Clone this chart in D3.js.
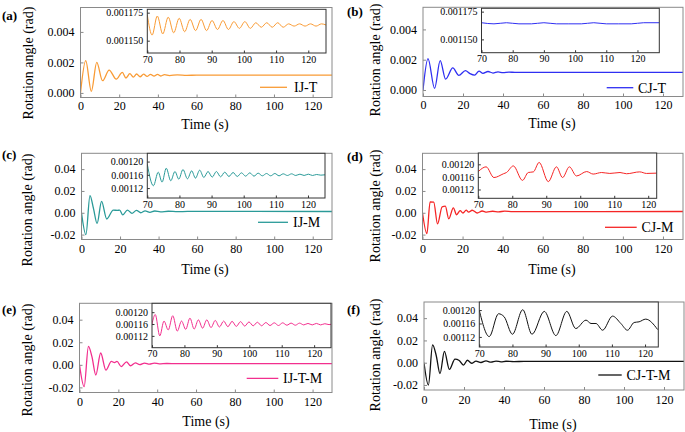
<!DOCTYPE html>
<html><head><meta charset="utf-8">
<script src="https://cdn.jsdelivr.net/npm/d3@7"></script>
<style>
body{margin:0;background:#fff}
svg{display:block}
</style>
</head><body>
<svg id="chart" width="685" height="432"></svg>
<script>
// ---------- tick labels / categories ----------
const seriesNames = ["IJ-T","CJ-T","IJ-M","CJ-M","IJ-T-M","CJ-T-M"];
const panelLetters = ["(a)","(b)","(c)","(d)","(e)","(f)"];
const xTicksMain = [0,20,40,60,80,100,120];
const xTicksInset = [70,80,90,100,110,120];
const yTicksT = [0,0.002,0.004];
const yTicksM = [-0.02,0,0.02,0.04];
const yTicksInsetT = [0.00115,0.001175];
const yTicksInsetM = [0.00112,0.00116,0.0012];
const xLabel = "Time (s)";
const yLabel = "Rotation angle (rad)";

// ---------- main series (time s, rotation rad) ----------
const tA = [0,2.7,5.6,8.4,11.4,14.8,18.5,21.6,23.5,25.5,27.3,29,30.8,32.6,34.4,36.2,38,39.8,41.6,43.4,46,50,55,60,130];
const vA = [0,0.00212,0.0001,0.002,0.0008,0.0015,0.0009,0.00135,0.00098,0.00126,0.00104,0.00124,0.00106,0.00123,0.00108,0.00122,0.0011,0.00121,0.00111,0.0012,0.00114,0.00118,0.00115,0.001165,0.001164];
const tB = [0,2.5,5.8,8.6,11.3,14.9,17.9,21.2,23.5,25.8,28,30,32.5,35,37.5,40,43,46,130];
const vB = [0,0.00207,0.00011,0.00194,0.00072,0.00146,0.00096,0.00128,0.00108,0.00098,0.00124,0.0011,0.00122,0.00112,0.0012,0.00114,0.00118,0.001163,0.001164];
const tC = [0,2.3,4.4,6.2,8.1,10.4,13.1,16.5,18.6,19.8,21.4,23.8,26.2,28.5,30.8,33,35.5,38,41,45,50,55,130];
const vC = [0,-0.02,0.0158,0.004,-0.0098,0.0105,-0.0057,0.0024,0.0022,0.0024,-0.002,0.0025,-0.0005,0.0022,0,0.0018,0.0004,0.0016,0.0008,0.0014,0.001,0.0012,0.00116];
const tD = [0,2.2,3.8,5.6,7.5,9.8,11.4,13.1,15.4,17,18.8,20.2,21.8,23,24.8,27.3,29.8,32,35,38,41,45,130];
const vD = [0,-0.0192,0.01,0.0098,-0.0102,0.0055,0.006,-0.0055,0.0045,-0.0018,0.002,-0.0002,0.0024,0.0006,0.0023,-0.0002,0.0016,0.0006,0.0014,0.0008,0.0015,0.0011,0.00117];
const tE = [0,2.4,4.6,6.4,8.4,10.9,13.6,16.4,18,19.3,21.5,24.2,26.3,28.8,31,33.5,36,38.5,41,45,50,130];
const vE = [0,-0.0193,0.0163,0.0072,-0.009,0.0105,-0.0046,0.003,0.002,0.003,-0.0015,0.0026,-0.0008,0.0018,0.0002,0.0016,0.0006,0.0015,0.0009,0.0012,0.0011,0.00116];
const tF = [0,2.2,4.3,6.1,8,10.2,12.7,15.5,17.6,19.7,21.7,23.8,26,28.5,31,33.5,36,38.5,41,45,50,130];
const vF = [0,-0.02,0.016,0.0065,-0.0098,0.0102,-0.006,0.0032,0.002,-0.0022,0.0022,-0.0005,0.0014,0.0002,0.0016,0.0005,0.0014,0.0008,0.0013,0.001,0.0012,0.00117];

// ---------- inset series (70 s onward) ----------
const itA = [70,71.5,73.1,74.8,76.5,78.2,79.9,81.6,83.3,85,86.7,88.4,90.1,91.8,93.5,95.2,96.9,98.6,100.3,102,103.7,105.4,107.1,108.8,110.5,112.2,113.9,115.6,117.3,119,120.7,122.4,124.1,125.5];
const ivA = [0.001173,0.001155,0.001172,0.001156,0.001171,0.001157,0.00117,0.001158,0.001169,0.001159,0.001169,0.001159,0.001168,0.00116,0.001168,0.00116,0.001167,0.001161,0.001167,0.001161,0.001166,0.001162,0.001166,0.001162,0.001166,0.001162,0.001165,0.001163,0.001165,0.001163,0.001165,0.001163,0.001165,0.001164];
const itB = [70,74,78,82,86,90,94,98,102,106,110,114,118,122,127];
const ivB = [0.001165,0.001164,0.001165,0.001164,0.001164,0.001165,0.001164,0.001164,0.001164,0.001165,0.001164,0.001164,0.001164,0.001165,0.001165];
const itC = [70,71.9,73.4,74.6,75.9,77.3,78.6,79.8,81.1,82.5,83.8,85,86.3,87.6,88.9,90.2,91.5,92.8,94.1,95.4,96.7,98,99.3,100.6,101.9,103.2,104.5,105.8,107.1,108.4,109.7,111,112.3,113.6,114.9,116.2,117.5,118.8,120.1,121.4,122.7,124,125.3];
const ivC = [0.001192,0.001127,0.001168,0.001138,0.00118,0.001142,0.00117,0.001147,0.001176,0.001148,0.001172,0.00115,0.001174,0.001152,0.00117,0.001153,0.00117,0.001154,0.001168,0.001155,0.001167,0.001155,0.001166,0.001156,0.001166,0.001156,0.001165,0.001157,0.001164,0.001157,0.001164,0.001157,0.001163,0.001158,0.001163,0.001158,0.001162,0.001158,0.001162,0.001158,0.001161,0.001159,0.00116];
const itD = [70,72.3,74.6,77.4,78.3,80.3,83,84.7,86.2,87.9,90.6,93,94.8,96.8,98.9,101.9,103.8,106.3,108.7,111.7,113.6,117.5,119.5,122.5];
const ivD = [0.001177,0.001192,0.001158,0.00117,0.001174,0.001195,0.001149,0.001174,0.001176,0.001206,0.001145,0.001192,0.001158,0.001192,0.001163,0.001177,0.001169,0.001174,0.001171,0.001174,0.00117,0.001176,0.001171,0.001172];
const itE = [70,71,72.4,73.7,75,76.4,77.8,79.1,80.4,81.7,83,84.3,85.6,86.9,88.2,89.5,90.8,92.1,93.4,94.7,96,97.3,98.6,99.9,101.2,102.5,103.8,105.1,106.4,107.7,109,110.3,111.6,112.9,114.2,115.5,116.8,118.1,119.4,120.7,122,123.3,124.6,125.2];
const ivE = [0.00116,0.001192,0.00112,0.00117,0.00114,0.001188,0.001136,0.00117,0.001142,0.00118,0.001143,0.001174,0.001146,0.001174,0.001148,0.001172,0.00115,0.00117,0.001151,0.001169,0.001152,0.001168,0.001153,0.001167,0.001154,0.001166,0.001154,0.001165,0.001155,0.001164,0.001155,0.001164,0.001156,0.001163,0.001156,0.001163,0.001157,0.001162,0.001157,0.001162,0.001157,0.001161,0.001158,0.001159];
const itF = [70,73,75.8,77.5,80,83.1,85.9,89.6,93.1,96.4,99.1,102.2,103.7,105.2,107.2,110.2,112.7,114.7,116.7,118.2,120.2,123.8];
const ivF = [0.001199,0.001121,0.001189,0.00118,0.001128,0.001201,0.001128,0.001196,0.001124,0.001196,0.001145,0.00117,0.00116,0.00116,0.00114,0.001182,0.00116,0.00114,0.001163,0.001165,0.001173,0.001142];

const colors = ["#F99B35","#2F2FF2","#2A9A98","#F52525","#F22F8E","#111111"];

// ---------- layout ----------
const panels = [
 {t:tA,v:vA,it:itA,iv:ivA, x0:80.5,x1:332,y0:7.5,y1:97.5,yDom:[-0.0003,0.0056],yT:yTicksT,fmt:".3f",
  ins:{x0:147.3,x1:326,y0:9.3,y1:53,xDom:[70,125.5],yDom:[0.001139,0.001178],yT:yTicksInsetT,fmt:".6f"},
  lg:{x0:260,x1:287,y:87.3,tx:294}, lab:{x:2,y:20}, yl:{x:33,y:63}, xl:{x:205,y:129}, tickOff:12},
 {t:tB,v:vB,it:itB,iv:ivB, x0:423,x1:683,y0:7.3,y1:96.5,yDom:[-0.00043,0.00546],yT:yTicksT,fmt:".3f",
  ins:{x0:481.5,x1:659.3,y0:8.3,y1:52.7,xDom:[70,127],yDom:[0.001138,0.001178],yT:yTicksInsetT,fmt:".6f"},
  lg:{x0:606.7,x1:633.3,y:87.7,tx:638}, lab:{x:347,y:16}, yl:{x:380,y:60}, xl:{x:552,y:128}, tickOff:12},
 {t:tC,v:vC,it:itC,iv:ivC, x0:81.5,x1:332,y0:153.3,y1:239.5,yDom:[-0.0245,0.0545],yT:yTicksM,fmt:".2f",
  ins:{x0:147.3,x1:325,y0:153.3,y1:198,xDom:[70,125.3],yDom:[0.00109,0.001225],yT:yTicksInsetM,fmt:".5f"},
  lg:{x0:258,x1:288,y:222.3,tx:293}, lab:{x:2,y:159}, yl:{x:32,y:210}, xl:{x:205,y:274}, tickOff:13.5},
 {t:tD,v:vD,it:itD,iv:ivD, x0:422.5,x1:683,y0:153.3,y1:239.5,yDom:[-0.0245,0.0545],yT:yTicksM,fmt:".2f",
  ins:{x0:478.3,x1:656.7,y0:153,y1:198.3,xDom:[70,122.5],yDom:[0.001092,0.001236],yT:yTicksInsetM,fmt:".5f"},
  lg:{x0:605,x1:636.7,y:227.3,tx:641.5}, lab:{x:347,y:161}, yl:{x:380,y:206}, xl:{x:552,y:274}, tickOff:13.5},
 {t:tE,v:vE,it:itE,iv:ivE, x0:79.5,x1:332,y0:303.3,y1:392.5,yDom:[-0.0245,0.0545],yT:yTicksM,fmt:".2f",
  ins:{x0:152,x1:331,y0:303.3,y1:347.7,xDom:[70,125.2],yDom:[0.00108,0.00123],yT:yTicksInsetM,fmt:".5f"},
  lg:{x0:246.7,x1:278.3,y:378.3,tx:283}, lab:{x:2,y:314}, yl:{x:32,y:360}, xl:{x:206,y:426}, tickOff:13.5},
 {t:tF,v:vF,it:itF,iv:ivF, x0:424,x1:684,y0:302,y1:390,yDom:[-0.0245,0.0545],yT:yTicksM,fmt:".2f",
  ins:{x0:479.3,x1:658.3,y0:302,y1:347,xDom:[70,124],yDom:[0.00109,0.001224],yT:yTicksInsetM,fmt:".5f"},
  lg:{x0:598.3,x1:621.7,y:375,tx:626.5}, lab:{x:347,y:314}, yl:{x:380,y:355}, xl:{x:553,y:429}, tickOff:13.5}
];

const FONT = "'Liberation Serif','Times New Roman',serif";
const svg = d3.select("#chart");
const fix = f => d => d3.format(f)(d).replace("\u2212","-");
const styleText = (sel, size, weight) => sel
  .style("font-family", FONT).style("font-size", size + "px")
  .style("font-weight", weight || "normal").style("fill", "#000");

panels.forEach((p,i) => {
  const col = colors[i];
  const g = svg.append("g");
  const x = d3.scaleLinear().domain([0,130]).range([p.x0,p.x1]);
  const y = d3.scaleLinear().domain(p.yDom).range([p.y1,p.y0]);
  const cid = "clip"+i;
  svg.append("clipPath").attr("id",cid).append("rect")
    .attr("x",p.x0).attr("y",p.y0).attr("width",p.x1-p.x0).attr("height",p.y1-p.y0);

  g.append("path").datum(d3.zip(p.t,p.v))
    .attr("clip-path",`url(#${cid})`)
    .attr("fill","none").attr("stroke",col).attr("stroke-width",1.3)
    .attr("d", d3.line().x(d=>x(d[0])).y(d=>y(d[1])).curve(d3.curveMonotoneX));

  g.append("rect").attr("x",p.x0).attr("y",p.y0).attr("width",p.x1-p.x0).attr("height",p.y1-p.y0)
    .attr("fill","none").attr("stroke","#8a8a8a").attr("stroke-width",1);

  const xa = g.append("g").attr("transform",`translate(0,${p.y1})`)
    .call(d3.axisBottom(x).tickValues(xTicksMain).tickSizeInner(-3).tickSizeOuter(0).tickFormat(d3.format("d")));
  xa.select(".domain").remove();
  xa.selectAll("line").attr("stroke","#8a8a8a");
  styleText(xa.selectAll("text").attr("y",p.tickOff).attr("dy",0), 12);

  const ya = g.append("g").attr("transform",`translate(${p.x0},0)`)
    .call(d3.axisLeft(y).tickValues(p.yT).tickSizeInner(-3).tickSizeOuter(0).tickFormat(fix(p.fmt)));
  ya.select(".domain").remove();
  ya.selectAll("line").attr("stroke","#8a8a8a");
  styleText(ya.selectAll("text").attr("x",-6), 12);

  styleText(g.append("text").attr("x",p.xl.x).attr("y",p.xl.y).attr("text-anchor","middle").text(xLabel), 14);
  styleText(g.append("text").attr("transform",`translate(${p.yl.x},${p.yl.y}) rotate(-90)`)
    .attr("text-anchor","middle").text(yLabel), 14);

  styleText(g.append("text").attr("x",p.lab.x).attr("y",p.lab.y).text(panelLetters[i]), 13, "bold");

  g.append("line").attr("x1",p.lg.x0).attr("x2",p.lg.x1).attr("y1",p.lg.y).attr("y2",p.lg.y)
    .attr("stroke",col).attr("stroke-width",1.3);
  styleText(g.append("text").attr("x",p.lg.tx).attr("y",p.lg.y+5).text(seriesNames[i]), 14);

  const q = p.ins;
  const ix = d3.scaleLinear().domain(q.xDom).range([q.x0,q.x1]);
  const iy = d3.scaleLinear().domain(q.yDom).range([q.y1,q.y0]);
  const icid = "iclip"+i;
  svg.append("clipPath").attr("id",icid).append("rect")
    .attr("x",q.x0).attr("y",q.y0).attr("width",q.x1-q.x0).attr("height",q.y1-q.y0);
  g.append("rect").attr("x",q.x0).attr("y",q.y0).attr("width",q.x1-q.x0).attr("height",q.y1-q.y0)
    .attr("fill","#fff");
  g.append("path").datum(d3.zip(p.it,p.iv))
    .attr("clip-path",`url(#${icid})`)
    .attr("fill","none").attr("stroke",col).attr("stroke-width",1)
    .attr("d", d3.line().x(d=>ix(d[0])).y(d=>iy(d[1])).curve(d3.curveMonotoneX));
  g.append("rect").attr("x",q.x0).attr("y",q.y0).attr("width",q.x1-q.x0).attr("height",q.y1-q.y0)
    .attr("fill","none").attr("stroke","#333").attr("stroke-width",1);

  const ixa = g.append("g").attr("transform",`translate(0,${q.y1})`)
    .call(d3.axisBottom(ix).tickValues(xTicksInset).tickSizeInner(-2.5).tickSizeOuter(0).tickFormat(d3.format("d")));
  ixa.select(".domain").remove();
  ixa.selectAll("line").attr("stroke","#333");
  styleText(ixa.selectAll("text").attr("y",9.5).attr("dy",0), 10);

  const iya = g.append("g").attr("transform",`translate(${q.x0},0)`)
    .call(d3.axisLeft(iy).tickValues(q.yT).tickSizeInner(-2.5).tickSizeOuter(0).tickFormat(d3.format(q.fmt)));
  iya.select(".domain").remove();
  iya.selectAll("line").attr("stroke","#333");
  styleText(iya.selectAll("text").attr("x",-4), 10);
});
</script>
</body></html>
